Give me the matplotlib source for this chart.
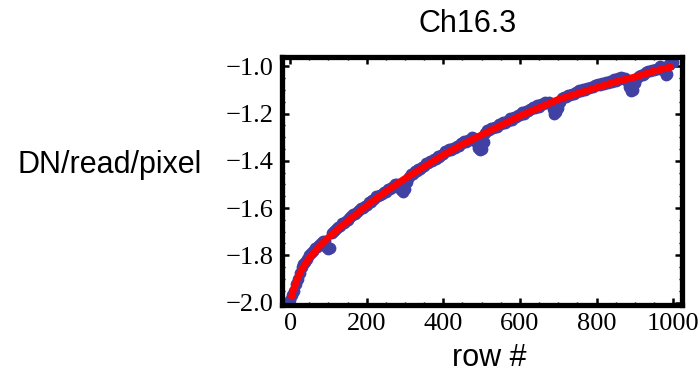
""" Ch16.3: DN/read/pixel vs row # """
import numpy as np
import matplotlib
matplotlib.use('Agg')
import matplotlib.pyplot as plt
from matplotlib.ticker import MultipleLocator

# measured data, rows 0, 10, ... 1000
rows_a = np.arange(0, 1001, 10)
dn_a = [-1.99, -1.95, -1.90, -1.85, -1.83, -1.80, -1.78, -1.765, -1.75, -1.74,
        -1.775, -1.705, -1.69, -1.675, -1.665, -1.65, -1.635, -1.625, -1.61, -1.60,
        -1.585, -1.575, -1.56, -1.55, -1.54, -1.53, -1.52, -1.51, -1.50, -1.525,
        -1.52, -1.47, -1.455, -1.445, -1.435, -1.42, -1.41, -1.40, -1.39, -1.385,
        -1.37, -1.36, -1.355, -1.345, -1.335, -1.325, -1.32, -1.31, -1.305, -1.345,
        -1.35, -1.28, -1.27, -1.26, -1.255, -1.245, -1.24, -1.23, -1.225, -1.215,
        -1.205, -1.20, -1.19, -1.18, -1.175, -1.17, -1.16, -1.155, -1.16, -1.20,
        -1.175, -1.135, -1.13, -1.12, -1.115, -1.11, -1.105, -1.10, -1.09, -1.085,
        -1.08, -1.08, -1.075, -1.07, -1.065, -1.06, -1.055, -1.05, -1.06, -1.105,
        -1.07, -1.04, -1.035, -1.025, -1.02, -1.015, -1.01, -1.005, -1.035, -0.99,
        -0.98]

# measured data, rows 5, 15, ... 995
rows_b = np.arange(5, 1000, 10)
dn_b = [-1.97, -1.92, -1.875, -1.835, -1.815, -1.79, -1.77, -1.755, -1.74, -1.765,
        -1.77, -1.695, -1.68, -1.665, -1.655, -1.64, -1.625, -1.615, -1.60, -1.59,
        -1.575, -1.565, -1.55, -1.545, -1.53, -1.52, -1.51, -1.50, -1.51, -1.53,
        -1.49, -1.455, -1.445, -1.435, -1.425, -1.41, -1.40, -1.39, -1.38, -1.375,
        -1.36, -1.35, -1.345, -1.335, -1.325, -1.315, -1.31, -1.30, -1.32, -1.355,
        -1.32, -1.27, -1.26, -1.255, -1.245, -1.235, -1.23, -1.22, -1.215, -1.205,
        -1.195, -1.19, -1.18, -1.17, -1.165, -1.16, -1.15, -1.15, -1.18, -1.195,
        -1.15, -1.13, -1.12, -1.115, -1.11, -1.10, -1.095, -1.09, -1.085, -1.08,
        -1.075, -1.07, -1.065, -1.06, -1.055, -1.05, -1.045, -1.05, -1.085, -1.10,
        -1.05, -1.035, -1.03, -1.02, -1.015, -1.01, -1.0, -1.02, -1.03, -0.985]

# fitted curve
fit_rows = [2, 10, 20, 30, 40, 50, 75, 100, 150, 200, 250, 300, 350, 400, 450, 500,
            550, 600, 650, 700, 750, 800, 850, 900, 950, 1000]
fit_dn = [-1.985, -1.94, -1.895, -1.862, -1.835, -1.812, -1.765, -1.725, -1.655,
          -1.59, -1.53, -1.475, -1.425, -1.375, -1.33, -1.29, -1.25, -1.21, -1.175,
          -1.14, -1.115, -1.09, -1.065, -1.045, -1.02, -1.00]

xticks = [0, 200, 400, 600, 800, 1000]
yticks = [-2.0, -1.8, -1.6, -1.4, -1.2, -1.0]

fig = plt.figure(figsize=(7, 3.74), dpi=100)
ax = fig.add_axes([0.4029, 0.1858, 0.5714, 0.6618])

ax.plot(rows_a, dn_a, 'o', color='#4141a3', markersize=8.5, markeredgewidth=0)
ax.plot(rows_b, dn_b, 'o', color='#4141a3', markersize=8.5, markeredgewidth=0)
ax.plot(fit_rows, fit_dn, '-', color='#ff0000', linewidth=5, solid_capstyle='butt')

ax.set_xlim(-21, 1023)
ax.set_ylim(-2.0085, -0.96)
ax.set_xticks(xticks)
ax.set_yticks(yticks)
ax.set_xticklabels([str(t) for t in xticks])
ax.set_yticklabels(['\u2212%.1f' % abs(t) for t in yticks])
ax.xaxis.set_minor_locator(MultipleLocator(50))
ax.yaxis.set_minor_locator(MultipleLocator(0.05))

for s in ax.spines.values():
    s.set_linewidth(3.8)
ax.tick_params(which='both', direction='in', top=True, right=True)
ax.tick_params(which='major', length=5, width=1.8, pad=6)
ax.tick_params(which='minor', length=2.5, width=1)
for lab in ax.get_xticklabels() + ax.get_yticklabels():
    lab.set_fontfamily('Liberation Serif')
    lab.set_fontsize(19)

fig.text(468 / 700, 1 - 24 / 374, 'Ch16.3', family='Liberation Sans', fontsize=22,
         ha='center', va='center')
fig.text(110 / 700, 1 - 173 / 374, 'DN/read/pixel', family='Liberation Sans',
         fontsize=22, ha='center', va='baseline')
fig.text(489.5 / 700, 1 - 366 / 374, 'row #', family='Liberation Sans', fontsize=22,
         ha='center', va='baseline')

fig.savefig('out.png', dpi=100)
